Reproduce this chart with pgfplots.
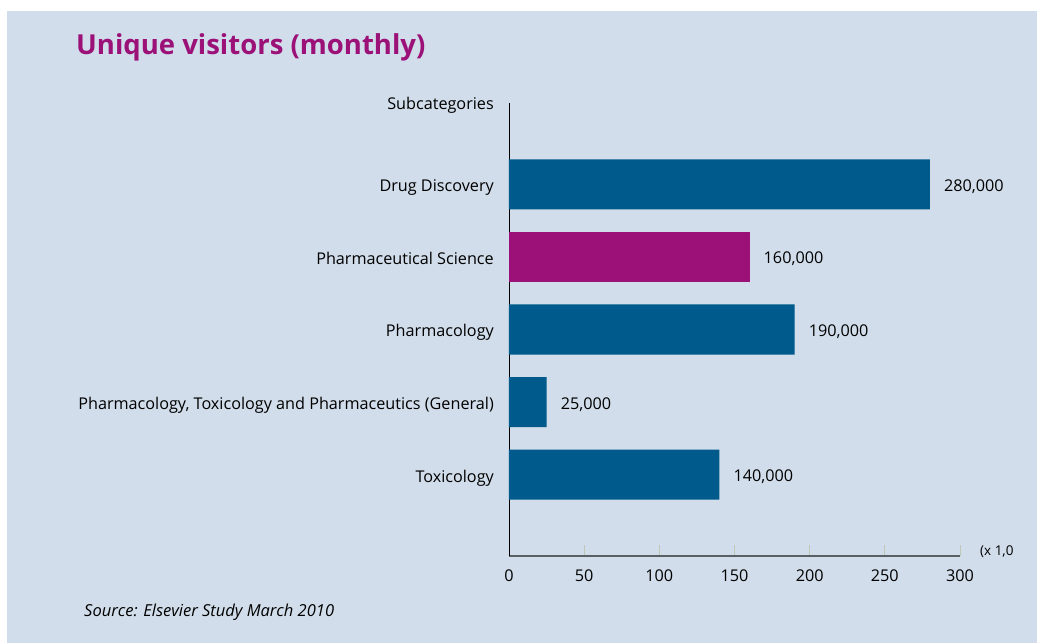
\documentclass[border=0pt]{standalone}
\usepackage{pgfplots}
\pgfplotsset{compat=1.18}
\usepackage{fontspec}
\setmainfont{Open Sans}
\definecolor{bg}{RGB}{209,221,234}
\definecolor{barblue}{RGB}{0,90,139}
\definecolor{barpurple}{RGB}{155,17,120}
\definecolor{titlepurple}{RGB}{155,17,120}
\definecolor{tickc}{RGB}{190,200,180}
\definecolor{axgray}{RGB}{90,95,100}
\begin{document}
\begin{tikzpicture}[x=1pt,y=1pt]
\useasboundingbox (0,0) rectangle (1037,643);
\fill[white] (0,0) rectangle (1037,643);
\fill[bg] (7,0) rectangle (1037,632);
\node[anchor=base west, inner sep=0pt, text=titlepurple, font=\fontsize{27.5}{32}\selectfont\bfseries] at (76,588) {Unique visitors (monthly)};
\node[anchor=base west, inner sep=0pt, font=\fontsize{16.5}{19}\selectfont\itshape] at (84,26) {Source: Elsevier Study March 2010};
\begin{axis}[
  at={(509pt,87pt)}, anchor=south west,
  scale only axis, width=451pt, height=453pt,
  xmin=0, xmax=300, ymin=-1.12, ymax=5.12,
  axis x line=bottom, axis y line=left,
  axis line style={-},
  x axis line style={axgray, line width=2pt},
  y axis line style={black, line width=0.8pt},
  xtick={0,50,...,300},
  tick align=inside,
  major tick length=11pt,
  xtick style={tickc, line width=0.8pt},
  ytick={0,1,2,3,4},
  yticklabels={Toxicology, {Pharmacology, Toxicology and Pharmaceutics (General)}, Pharmacology, Pharmaceutical Science, Drug Discovery},
  ytick style={draw=none},
  /pgf/number format/assume math mode=true,
  tick label style={font=\fontsize{16.2}{19}\selectfont, inner sep=0pt},
  xticklabel style={anchor=north, yshift=-14pt},
  yticklabel style={anchor=base east, xshift=-15pt, yshift=-7.5pt},
  nodes near coords,
  point meta=explicit symbolic,
  every node near coord/.append style={anchor=base west, inner sep=0pt, xshift=14pt, yshift=-7pt, font=\fontsize{16.2}{19}\selectfont, text=black},
  clip=false,
]
\addplot[xbar, bar width=0.69, bar shift=0pt, fill=barblue, draw=none] coordinates {(280,4)[280,000] (190,2)[190,000] (25,1)[25,000] (140,0)[140,000]};
\addplot[xbar, bar width=0.69, bar shift=0pt, fill=barpurple, draw=none] coordinates {(160,3)[160,000]};
\node[anchor=base east, inner sep=0pt, font=\fontsize{16.2}{19}\selectfont, xshift=-15pt, yshift=-6.5pt] at (axis description cs:0,1) {Subcategories};
\end{axis}
\begin{scope}
\clip (0,0) rectangle (1013,643);
\node[anchor=west, inner sep=0pt, font=\fontsize{13.5}{15}\selectfont] at (980,91) {(x 1,000)};
\end{scope}
\end{tikzpicture}
\end{document}
